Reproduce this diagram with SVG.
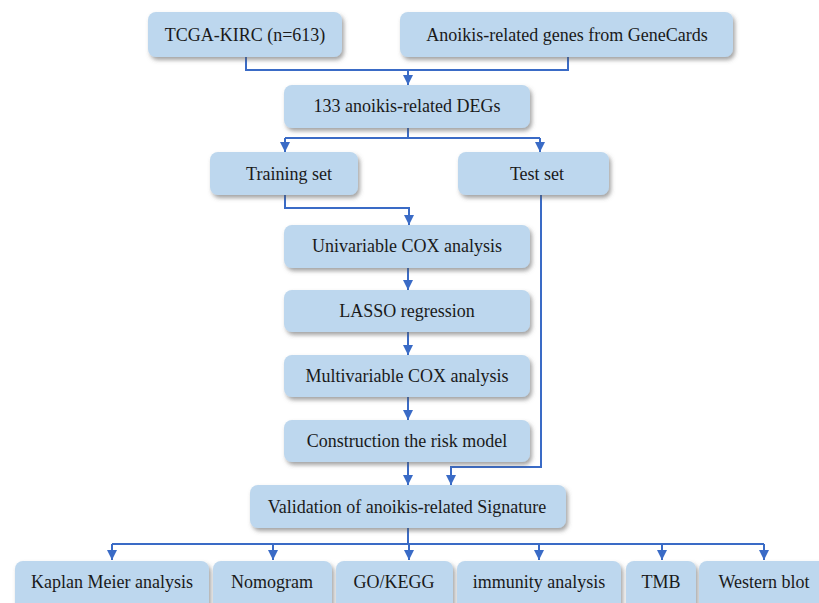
<svg xmlns="http://www.w3.org/2000/svg" width="819" height="603" viewBox="0 0 819 603">
<defs>
<filter id="sh" x="-10%" y="-20%" width="125%" height="150%">
<feDropShadow dx="2" dy="3" stdDeviation="2" flood-color="#555" flood-opacity="0.55"/>
</filter>
<marker id="arr" viewBox="0 0 10 10" refX="10" refY="5" markerWidth="10" markerHeight="10" markerUnits="userSpaceOnUse" orient="auto">
<path d="M0,0 L10,5 L0,10 z" fill="#3A6BC6"/>
</marker>
<style>
.box{fill:#BDD7EE;filter:url(#sh);}
.t{font-family:'Liberation Serif','DejaVu Serif',serif;font-size:18px;fill:#1a1a1a;text-anchor:middle;}
.c{fill:none;stroke:#3A6BC6;stroke-width:2;}
</style>
</defs>
<rect width="819" height="603" fill="#fff"/>
<g id="connectors">
<polyline class="c" points="246,57 246,70 568,70 568,57"/>
<polyline class="c" points="408,70 408,85" marker-end="url(#arr)"/>
<polyline class="c" points="408,128 408,138"/>
<polyline class="c" points="285,138 540,138"/>
<polyline class="c" points="285,138 285,152" marker-end="url(#arr)"/>
<polyline class="c" points="540,138 540,152" marker-end="url(#arr)"/>
<polyline class="c" points="285,195 285,208 409,208 409,225" marker-end="url(#arr)"/>
<polyline class="c" points="408,268 408,290" marker-end="url(#arr)"/>
<polyline class="c" points="408,332 408,355" marker-end="url(#arr)"/>
<polyline class="c" points="408,397 408,420" marker-end="url(#arr)"/>
<polyline class="c" points="408,462 408,485" marker-end="url(#arr)"/>
<polyline class="c" points="541,195 541,467 451,467 451,485" marker-end="url(#arr)"/>
<polyline class="c" points="408,528 408,544"/>
<polyline class="c" points="112,544 764,544"/>
<polyline class="c" points="112,544 112,560" marker-end="url(#arr)"/>
<polyline class="c" points="273,544 273,560" marker-end="url(#arr)"/>
<polyline class="c" points="409,544 409,560" marker-end="url(#arr)"/>
<polyline class="c" points="539,544 539,560" marker-end="url(#arr)"/>
<polyline class="c" points="662,544 662,560" marker-end="url(#arr)"/>
<polyline class="c" points="764,544 764,560" marker-end="url(#arr)"/>
</g>
<g font-family="Liberation Serif, DejaVu Serif, serif">
<g id="tcga"><rect class="box" x="148" y="12" width="194" height="45" rx="8"/><text class="t" x="245" y="41">TCGA-KIRC (n=613)</text></g>
<g id="genecards"><rect class="box" x="400" y="12" width="333" height="45" rx="8"/><text class="t" x="567" y="41">Anoikis-related genes from GeneCards</text></g>
<g id="degs"><rect class="box" x="284" y="85" width="246" height="43" rx="8"/><text class="t" x="407" y="112">133 anoikis-related DEGs</text></g>
<g id="training"><rect class="box" x="210" y="152" width="148" height="43" rx="8"/><text class="t" x="289" y="180">Training set</text></g>
<g id="test"><rect class="box" x="458" y="152" width="151" height="43" rx="8"/><text class="t" x="537" y="180">Test set</text></g>
<g id="univariable"><rect class="box" x="284" y="225" width="246" height="43" rx="8"/><text class="t" x="407" y="252">Univariable COX analysis</text></g>
<g id="lasso"><rect class="box" x="284" y="290" width="246" height="42" rx="8"/><text class="t" x="407" y="317">LASSO regression</text></g>
<g id="multivariable"><rect class="box" x="284" y="355" width="246" height="42" rx="8"/><text class="t" x="407" y="382">Multivariable COX analysis</text></g>
<g id="construction"><rect class="box" x="284" y="420" width="246" height="42" rx="8"/><text class="t" x="407" y="447">Construction the risk model</text></g>
<g id="validation"><rect class="box" x="250" y="485" width="316" height="43" rx="8"/><text class="t" x="407" y="513">Validation of anoikis-related Signature</text></g>
<g id="kaplan"><rect class="box" x="15" y="561" width="194" height="50" rx="8"/><text class="t" x="112" y="588">Kaplan Meier analysis</text></g>
<g id="nomogram"><rect class="box" x="213" y="561" width="119" height="50" rx="8"/><text class="t" x="272" y="588">Nomogram</text></g>
<g id="gokegg"><rect class="box" x="336" y="561" width="117" height="50" rx="8"/><text class="t" x="394" y="588">GO/KEGG</text></g>
<g id="immunity"><rect class="box" x="457" y="561" width="164" height="50" rx="8"/><text class="t" x="539" y="588">immunity analysis</text></g>
<g id="tmb"><rect class="box" x="626" y="561" width="70" height="50" rx="8"/><text class="t" x="661" y="588">TMB</text></g>
<g id="western"><rect class="box" x="699" y="561" width="130" height="50" rx="8"/><text class="t" x="764" y="588">Western blot</text></g>
</g>
</svg>
